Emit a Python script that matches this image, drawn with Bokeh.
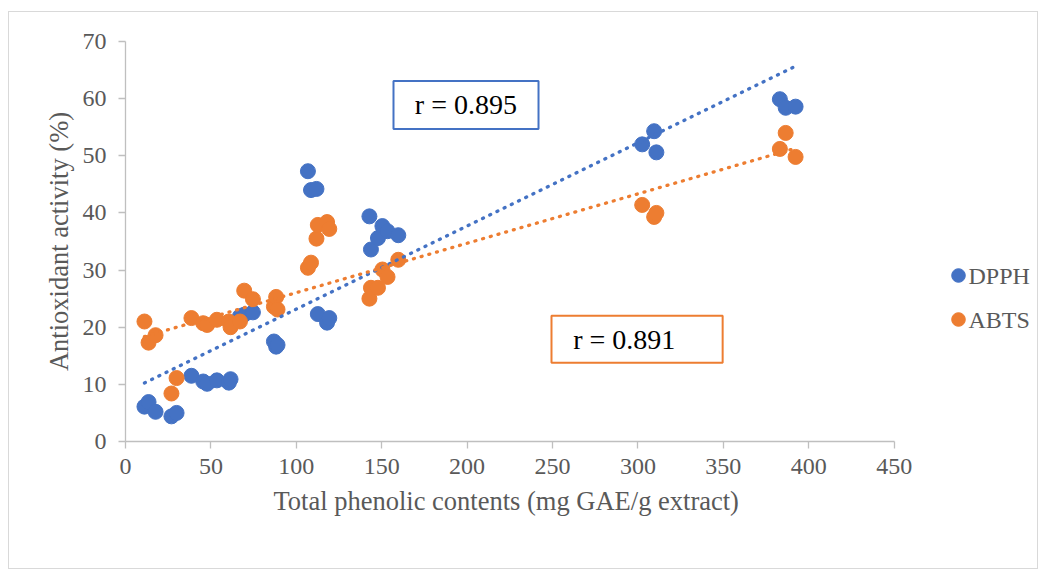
import numpy as np
from bokeh.plotting import figure
from bokeh.models import (Range1d, Legend, LegendItem, BoxAnnotation, Label,
                          FixedTicker, Title)
from bokeh.embed import file_html
from bokeh.resources import INLINE

# ---- data ----
tpc = [11.1, 13.5, 17.6, 26.9, 29.9, 38.6, 45.5, 47.8, 53.5, 60.5, 61.5,
       67.0, 69.5, 74.6, 86.9, 88.2, 89.0, 106.8, 108.6, 111.8, 112.6, 118.0,
       119.3, 142.8, 143.7, 147.8, 150.4, 153.4, 159.7, 302.5, 309.5, 310.8,
       383.1, 386.5, 392.3]
dpph = [6.1, 6.9, 5.2, 4.4, 5.0, 11.5, 10.5, 10.1, 10.7, 10.3, 10.9,
        21.9, 22.2, 22.6, 17.5, 16.6, 16.9, 47.3, 44.0, 44.2, 22.3, 20.8,
        21.6, 39.4, 33.6, 35.6, 37.7, 36.8, 36.1, 52.0, 54.3, 50.6,
        59.9, 58.4, 58.6]
abts = [21.0, 17.3, 18.6, 8.4, 11.1, 21.6, 20.7, 20.4, 21.3, 21.0, 20.0,
        21.0, 26.4, 24.9, 23.6, 25.3, 23.1, 30.4, 31.3, 35.5, 37.9, 38.4,
        37.2, 25.0, 26.9, 26.9, 30.1, 28.8, 31.8, 41.4, 39.3, 40.0,
        51.2, 54.0, 49.8]
series_names = ["DPPH", "ABTS"]
r_texts = ["r = 0.895", "r = 0.891"]
x_title = "Total phenolic contents (mg GAE/g extract)"
y_title = "Antioxidant activity (%)"
x_ticks = [0, 50, 100, 150, 200, 250, 300, 350, 400, 450]
y_ticks = [0, 10, 20, 30, 40, 50, 60, 70]

BLUE = "#4472C4"
ORANGE = "#ED7D31"
GREY_TXT = "#595959"
AX = "#BFBFBF"
FONT = "Liberation Serif"

# the frame runs on past 450 so the legend (right of the axis) is not clipped;
# the x axis itself is bounded to 0..450
p = figure(width=1030, height=558, output_backend="svg", toolbar_location=None,
           x_range=Range1d(0, 535.1), y_range=Range1d(0, 70),
           min_border_left=116, min_border_right=0, min_border_top=29,
           min_border_bottom=129)
p.styles = {"margin": "11px 0 0 8px", "border": "1px solid #D9D9D9"}
p.outline_line_color = None
p.xgrid.visible = False
p.ygrid.visible = False

for ax, ticks in ((p.xaxis[0], x_ticks), (p.yaxis[0], y_ticks)):
    ax.ticker = FixedTicker(ticks=ticks)
    ax.minor_tick_line_color = None
    ax.axis_line_color = AX
    ax.axis_line_width = 1.3
    ax.major_tick_line_color = AX
    ax.major_tick_line_width = 1.3
    ax.major_tick_in = 0
    ax.major_tick_out = 7
    ax.major_label_text_font = FONT
    ax.major_label_text_font_size = "24px"
    ax.major_label_text_color = GREY_TXT
    ax.axis_label_text_font = FONT
    ax.axis_label_text_font_size = "26.5px"
    ax.axis_label_text_font_style = "normal"
    ax.axis_label_text_color = GREY_TXT

p.xaxis.bounds = (x_ticks[0], x_ticks[-1])
p.yaxis.axis_label = y_title
p.xaxis.major_label_standoff = 10
p.yaxis.major_label_standoff = 12
p.yaxis.axis_label_standoff = 6

# x-axis title, centred under the 0..450 axis
p.add_layout(Title(text=x_title, align="left", offset=148, standoff=15,
                   text_font=FONT, text_font_size="26.5px",
                   text_font_style="normal", text_color=GREY_TXT), "below")

r1 = p.scatter(tpc, dpph, size=15, color=BLUE, line_color=BLUE)
r2 = p.scatter(tpc, abts, size=15, color=ORANGE, line_color=ORANGE)

# linear trendlines (least squares from the data)
xs = np.array(tpc)
for ys, col in ((dpph, BLUE), (abts, ORANGE)):
    m, b = np.polyfit(xs, np.array(ys), 1)
    xx = [float(xs.min()), float(xs.max())]
    p.line(xx, [float(m * v + b) for v in xx], line_color=col, line_width=3.3,
           line_dash="1 7", line_cap="round")

# r annotation boxes
p.add_layout(BoxAnnotation(left=156.9, right=241.8, top=63.1, bottom=54.7,
                           fill_color="white", fill_alpha=1,
                           line_color=BLUE, line_alpha=1, line_width=2,
                           level="overlay"))
p.add_layout(Label(x=199.3, y=58.9, text=r_texts[0], text_align="center",
                   text_baseline="middle", text_font=FONT,
                   text_font_size="28px", text_color="black", level="overlay"))
p.add_layout(BoxAnnotation(left=249.4, right=349.6, top=22.0, bottom=13.8,
                           fill_color="white", fill_alpha=1,
                           line_color=ORANGE, line_alpha=1, line_width=2,
                           level="overlay"))
p.add_layout(Label(x=292.0, y=17.9, text=r_texts[1], text_align="center",
                   text_baseline="middle", text_font=FONT,
                   text_font_size="28px", text_color="black", level="overlay"))

# legend: markers from a Legend, names as serif labels beside them
legend = Legend(items=[LegendItem(label=" ", renderers=[r1]),
                       LegendItem(label=" ", renderers=[r2])],
                location=(816, 104), orientation="vertical",
                glyph_width=34, glyph_height=36, label_standoff=0,
                spacing=8, padding=0, margin=0, label_width=1,
                label_text_font_size="24px", label_height=36,
                border_line_alpha=0, background_fill_alpha=0)
p.add_layout(legend)
for name, yy in zip(series_names, (166, 122)):
    p.add_layout(Label(x=843, y=yy, x_units="screen", y_units="screen",
                       text=name, text_align="left", text_baseline="middle",
                       text_font=FONT, text_font_size="24px",
                       text_color=GREY_TXT, level="overlay"))

open("out.html", "w").write(file_html(p, INLINE))
